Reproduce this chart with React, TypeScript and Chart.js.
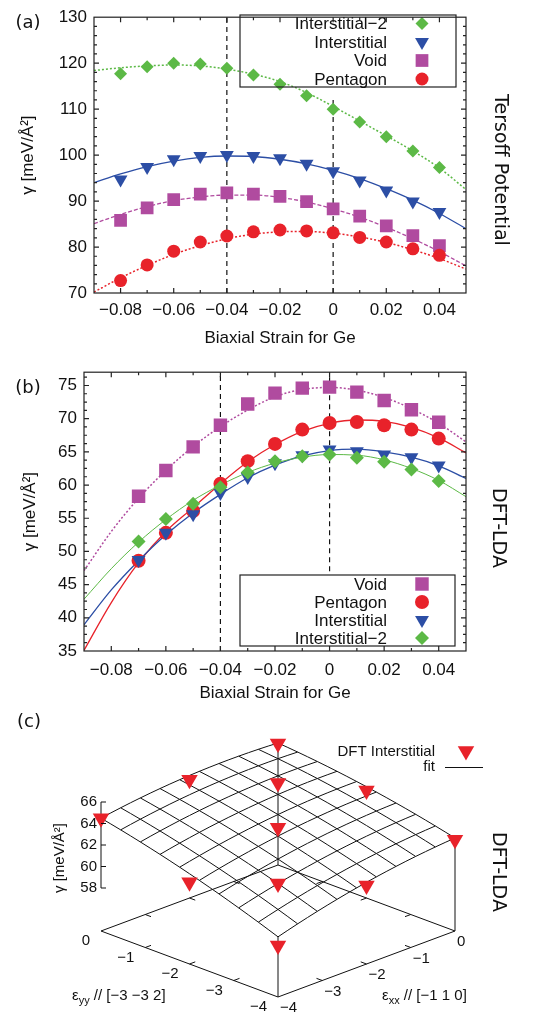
import React, { useEffect, useRef } from 'react';
import { Chart, registerables } from 'chart.js';

Chart.register(...registerables);

// ---------------- data: panel (a) Tersoff ----------------
const STRAIN_A = [-0.08, -0.07, -0.06, -0.05, -0.04, -0.03, -0.02, -0.01, 0, 0.01, 0.02, 0.03, 0.04];
const A_INT2 = [117.7, 119.2, 120.0, 119.8, 118.9, 117.4, 115.4, 112.9, 110.0, 107.2, 104.0, 100.9, 97.3];
const A_INT = [94.7, 97.4, 99.1, 99.8, 100.0, 99.8, 99.3, 98.1, 96.5, 94.5, 92.3, 89.9, 87.6];
const A_VOID = [85.8, 88.5, 90.3, 91.5, 91.8, 91.5, 91.0, 89.9, 88.3, 86.7, 84.6, 82.5, 80.3];
const A_PENT = [72.7, 76.1, 79.1, 81.1, 82.4, 83.3, 83.7, 83.5, 83.1, 82.1, 81.1, 79.6, 78.2];

// fitted curves at these strains
const FIT_X = [-0.09, -0.08, -0.07, -0.06, -0.05, -0.04, -0.03, -0.02, -0.01, 0, 0.01, 0.02, 0.03, 0.04, 0.05];
const A_INT2_FIT = [118.4, 119.0, 119.4, 119.6, 119.4, 118.7, 117.6, 116.0, 113.6, 110.6, 107.4, 104.2, 100.9, 97.2, 92.5];
const A_INT_FIT = [94.0, 95.9, 97.5, 98.7, 99.5, 99.8, 99.7, 99.1, 98.1, 96.7, 94.9, 92.7, 90.2, 87.3, 84.0];
const A_VOID_FIT = [85.1, 87.1, 88.8, 90.1, 90.9, 91.3, 91.3, 90.8, 89.8, 88.3, 86.5, 84.3, 81.8, 79.0, 75.9];
const A_PENT_FIT = [70.2, 73.3, 76.0, 78.4, 80.3, 81.8, 82.8, 83.3, 83.4, 83.0, 82.2, 81.0, 79.4, 77.5, 75.2];

// ---------------- data: panel (b) DFT-LDA ----------------
const STRAIN_B = [-0.07, -0.06, -0.05, -0.04, -0.03, -0.02, -0.01, 0, 0.01, 0.02, 0.03, 0.04];
const B_VOID = [58.3, 62.2, 65.75, 69.0, 72.2, 73.85, 74.6, 74.75, 74.0, 72.75, 71.35, 69.45];
const B_PENT = [48.6, 52.8, 56.1, 60.2, 63.6, 66.2, 68.35, 69.35, 69.5, 69.0, 68.35, 67.0];
const B_INT = [48.7, 52.8, 55.6, 58.8, 61.2, 63.3, 64.5, 65.35, 65.1, 64.6, 64.2, 62.95];
const B_INT2 = [51.5, 54.9, 57.2, 59.65, 61.9, 63.6, 64.35, 64.6, 64.1, 63.5, 62.35, 60.6];

const B_VOID_FIT = [47.1, 53.0, 58.0, 62.2, 65.8, 68.8, 71.3, 73.3, 74.4, 74.7, 74.3, 73.2, 71.5, 69.3, 66.5];
const B_PENT_FIT = [35.1, 42.3, 48.3, 53.0, 56.6, 60.2, 63.5, 66.1, 68.1, 69.3, 69.8, 69.6, 68.7, 67.1, 64.85];
const B_INT_FIT = [38.95, 44.2, 48.6, 52.5, 55.8, 58.6, 61.1, 63.0, 64.4, 65.2, 65.4, 65.0, 64.2, 62.9, 61.0];
const B_INT2_FIT = [42.8, 47.4, 51.4, 54.8, 57.7, 60.0, 61.9, 63.3, 64.2, 64.6, 64.5, 63.8, 62.5, 60.7, 58.25];

// ---------------- axes ----------------
const X_RANGE = [-0.09, 0.05];
const X_TICKS = [-0.08, -0.06, -0.04, -0.02, 0, 0.02, 0.04];
const X_TICK_LABELS = ['\u22120.08', '\u22120.06', '\u22120.04', '\u22120.02', '0', '0.02', '0.04'];
const A_Y_RANGE = [70, 130];
const A_Y_TICKS = [70, 80, 90, 100, 110, 120, 130];
const B_Y_RANGE = [35, 77];
const B_Y_TICKS = [35, 40, 45, 50, 55, 60, 65, 70, 75];
// dashed reference strains and the gamma span each dashed line covers
const REF_STRAIN = [-0.04, 0];
const A_REF_SPAN = [[70, 130], [70, 112]];
const B_REF_SPAN = [[35, 77], [47, 77]];

// ---------------- data: panel (c) 3D ----------------
const C_EXX = [0, -2, -1, 0, -4, -2, 0, -4, -3, -2, -4];
const C_EYY = [0, 0, -1, -2, 0, -2, -4, -2, -3, -4, -4];
const C_GAMMA = [65.3, 65.0, 64.7, 64.0, 64.5, 63.6, 62.5, 61.6, 61.5, 61.3, 58.8];
// fit surface: a + b*exx + c*eyy + d*exx^2 + e*eyy^2 + f*exx*eyy
const C_FIT = [65.35, -0.2625, 0.325, -0.119, -0.0875, -0.1375];
const C_STRAIN_RANGE = [-4, 0];
const C_STRAIN_TICKS = [0, -1, -2, -3, -4];
const C_STRAIN_LABELS = ['0', '\u22121', '\u22122', '\u22123', '\u22124'];
const C_Z_RANGE = [58, 66];
const C_Z_TICKS = [58, 60, 62, 64, 66];
const C_BASE = 54;

// ---------------- style ----------------
const GREEN = '#5cb946';
const BLUE = '#2c4ea5';
const MAGENTA = '#b04b9f';
const RED = '#e8222a';
const INK = '#111111';
const FONT = '"Liberation Sans", Arial, Helvetica, sans-serif';
const FONT_DJ = '"DejaVu Sans", Verdana, sans-serif';
const W = 534;

Chart.defaults.font.family = FONT;
Chart.defaults.font.size = 17;
Chart.defaults.color = INK;

type Style = 'rectRot' | 'triangleDown' | 'rect' | 'circle';

function drawMarker(ctx: CanvasRenderingContext2D, style: Style, x: number, y: number, r: number, color: string) {
  ctx.save();
  ctx.fillStyle = color;
  ctx.beginPath();
  if (style === 'circle') {
    ctx.arc(x, y, r, 0, Math.PI * 2);
  } else if (style === 'rect') {
    const s = r * Math.SQRT1_2;
    ctx.rect(x - s, y - s, 2 * s, 2 * s);
  } else if (style === 'rectRot') {
    ctx.moveTo(x - r, y);
    ctx.lineTo(x, y - r);
    ctx.lineTo(x + r, y);
    ctx.lineTo(x, y + r);
    ctx.closePath();
  } else {
    ctx.moveTo(x, y + r);
    ctx.lineTo(x - 0.866 * r, y - 0.5 * r);
    ctx.lineTo(x + 0.866 * r, y - 0.5 * r);
    ctx.closePath();
  }
  ctx.fill();
  ctx.restore();
}

type Ser = {
  label: string; x: number[]; y: number[]; fit: number[]; color: string;
  style: Style; r: number; dash: number[]; lw: number; order: number;
};

type PanelParams = {
  series: Ser[]; yRange: number[]; yTicks: number[]; yMinor: number; refSpan: number[][];
  padTop: number; right: number; yAxisW: number; xAxisH: number;
  xTickPad: number; xTitlePad: number; yTitlePad: number;
  letter: string; letterY: number; side: string; sideX: number; sideY: number;
  legendBox: number[]; legendRow0: number; legendStep: number; legendTextX: number; legendSymX: number;
};

function buildPanel(canvas: HTMLCanvasElement, p: PanelParams) {
  const datasets: any[] = [];
  p.series.forEach((s) => {
    datasets.push({
      label: s.label,
      data: s.x.map((x, i) => ({ x, y: s.y[i] })),
      showLine: false,
      pointStyle: s.style === 'triangleDown' ? 'triangle' : s.style,
      pointRotation: s.style === 'triangleDown' ? 180 : 0,
      pointRadius: s.r,
      pointHoverRadius: s.r,
      pointBackgroundColor: s.color,
      pointBorderColor: s.color,
      pointBorderWidth: 0,
      order: s.order,
    });
    datasets.push({
      label: s.label + ' fit',
      data: FIT_X.map((x, i) => ({ x, y: s.fit[i] })),
      showLine: true,
      pointRadius: 0,
      borderColor: s.color,
      borderWidth: s.lw,
      borderDash: s.dash,
      cubicInterpolationMode: 'monotone',
      fill: false,
      order: 10 + s.order,
    });
  });
  REF_STRAIN.forEach((x, i) => {
    datasets.push({
      label: 'ref',
      data: [{ x, y: p.refSpan[i][0] }, { x, y: p.refSpan[i][1] }],
      showLine: true,
      pointRadius: 0,
      borderColor: INK,
      borderWidth: 1.2,
      borderDash: [5, 4],
      order: 30,
    });
  });

  const plugin = {
    id: 'gnuframe',
    afterDatasetsDraw(chart: any) {
      const { ctx, chartArea } = chart;
      const { left, right, top, bottom } = chartArea;
      const xs = chart.scales.x;
      const ys = chart.scales.y;
      // legend (transparent key, as in gnuplot)
      const [lx0, ly0, lx1, ly1] = p.legendBox;
      ctx.save();
      ctx.strokeStyle = '#222';
      ctx.lineWidth = 1.2;
      ctx.strokeRect(lx0, ly0, lx1 - lx0, ly1 - ly0);
      ctx.font = `17px ${FONT}`;
      ctx.textAlign = 'right';
      ctx.textBaseline = 'middle';
      p.series.forEach((s, i) => {
        const y = p.legendRow0 + i * p.legendStep;
        ctx.fillStyle = INK;
        ctx.fillText(s.label, p.legendTextX, y + 1);
        drawMarker(ctx, s.style, p.legendSymX, y, s.r, s.color);
      });
      // frame
      ctx.strokeRect(left, top, right - left, bottom - top);
      ctx.beginPath();
      const major = 5, minor = 3;
      for (let k = Math.round(X_RANGE[0] * 100); k <= Math.round(X_RANGE[1] * 100); k++) {
        const v = k / 100;
        const isMajor = X_TICKS.some((t) => Math.abs(t - v) < 1e-9);
        const L = isMajor ? major : minor;
        const px = xs.getPixelForValue(v);
        if (px <= left + 0.5 || px >= right - 0.5) continue;
        ctx.moveTo(px, bottom); ctx.lineTo(px, bottom - L);
        ctx.moveTo(px, top); ctx.lineTo(px, top + L);
      }
      const n = Math.round((p.yRange[1] - p.yRange[0]) / p.yMinor);
      for (let k = 0; k <= n; k++) {
        const v = p.yRange[0] + k * p.yMinor;
        const isMajor = p.yTicks.some((t) => Math.abs(t - v) < 1e-6);
        const L = isMajor ? major : minor;
        const py = ys.getPixelForValue(v);
        if (py <= top + 0.5 || py >= bottom - 0.5) continue;
        ctx.moveTo(left, py); ctx.lineTo(left + L, py);
        ctx.moveTo(right, py); ctx.lineTo(right - L, py);
      }
      ctx.stroke();
      ctx.restore();
    },
    afterDraw(chart: any) {
      const { ctx } = chart;
      ctx.save();
      ctx.fillStyle = INK;
      ctx.textAlign = 'center';
      ctx.textBaseline = 'middle';
      ctx.font = `18px ${FONT_DJ}`;
      ctx.fillText(p.letter, 28, p.letterY);
      ctx.translate(p.sideX, p.sideY);
      ctx.rotate(Math.PI / 2);
      ctx.font = `19px ${FONT_DJ}`;
      ctx.fillText(p.side, 0, 0);
      ctx.restore();
    },
  };

  return new Chart(canvas, {
    type: 'scatter',
    data: { datasets },
    options: {
      responsive: false,
      animation: false,
      devicePixelRatio: 1,
      events: [],
      layout: { autoPadding: false, padding: { top: p.padTop, right: W - p.right, left: 0, bottom: 0 } },
      plugins: { legend: { display: false }, tooltip: { enabled: false } },
      scales: {
        x: {
          type: 'linear',
          min: X_RANGE[0],
          max: X_RANGE[1],
          afterBuildTicks: (s: any) => { s.ticks = X_TICKS.map((v) => ({ value: v })); },
          afterFit: (s: any) => { s.height = p.xAxisH; },
          grid: { display: false, drawTicks: false },
          border: { display: false },
          ticks: {
            autoSkip: false, maxRotation: 0, minRotation: 0, padding: p.xTickPad,
            font: { size: 17 }, color: INK,
            callback: (_v: any, i: number) => X_TICK_LABELS[i],
          },
          title: {
            display: true, text: 'Biaxial Strain for Ge', color: INK, font: { size: 17 },
            padding: { top: 0, bottom: p.xTitlePad },
          },
        },
        y: {
          type: 'linear',
          min: p.yRange[0],
          max: p.yRange[1],
          afterBuildTicks: (s: any) => { s.ticks = p.yTicks.map((v) => ({ value: v })); },
          afterFit: (s: any) => { s.width = p.yAxisW; },
          grid: { display: false, drawTicks: false },
          border: { display: false },
          ticks: {
            autoSkip: false, padding: 7, font: { size: 17 }, color: INK,
            callback: (_v: any, i: number) => String(p.yTicks[i]),
          },
          title: {
            display: true, text: '\u03b3 [meV/\u00c5\u00b2]', color: INK, font: { size: 17 },
            padding: { top: p.yTitlePad, bottom: 0 },
          },
        },
      },
    } as any,
    plugins: [plugin],
  });
}

// ---------------- panel (c) ----------------
const VIEW = { cx: 278, ux: 44.25, cy: 160, uz: 10.75, depth: 16.5 };
const C_H = 311;
const KD = VIEW.depth / VIEW.uz;
const surf = (ex: number, ey: number) =>
  C_FIT[0] + C_FIT[1] * ex + C_FIT[2] * ey + C_FIT[3] * ex * ex + C_FIT[4] * ey * ey + C_FIT[5] * ex * ey;
const proj = (ex: number, ey: number, g: number) => ({ x: ex - ey, y: g + KD * (ex + ey) });

function buildSurface(canvas: HTMLCanvasElement) {
  const [lo, hi] = C_STRAIN_RANGE;
  const datasets: any[] = [];
  datasets.push({
    label: 'DFT Interstitial',
    data: C_EXX.map((ex, i) => proj(ex, C_EYY[i], C_GAMMA[i])),
    showLine: false,
    pointStyle: 'triangle',
    pointRotation: 180,
    pointRadius: 9.5,
    pointBackgroundColor: RED,
    pointBorderWidth: 0,
    order: 0,
  });
  const line = (data: any[], order = 5) => ({
    data, showLine: true, pointRadius: 0, borderColor: INK, borderWidth: 1, tension: 0, order,
  });
  const NISO = 10, NS = 19;
  for (let i = 0; i < NISO; i++) {
    const a = lo + ((hi - lo) * i) / (NISO - 1);
    const l1: any[] = [], l2: any[] = [];
    for (let j = 0; j < NS; j++) {
      const b = lo + ((hi - lo) * j) / (NS - 1);
      l1.push(proj(a, b, surf(a, b)));
      l2.push(proj(b, a, surf(b, a)));
    }
    datasets.push(line(l1));
    datasets.push(line(l2));
  }
  // base plane
  datasets.push(line([[lo, hi], [lo, lo], [hi, lo], [hi, hi], [lo, hi]].map(([a, b]) => proj(a, b, C_BASE))));
  // corner verticals
  [[hi, hi], [hi, lo], [lo, lo]].forEach(([a, b]) => {
    datasets.push(line([proj(a, b, C_BASE), proj(a, b, surf(a, b))]));
  });
  // z axis
  datasets.push(line([proj(lo, hi, C_Z_RANGE[0]), proj(lo, hi, C_Z_RANGE[1])]));

  const plugin = {
    id: 'surf3d',
    afterDatasetsDraw(chart: any) {
      const { ctx } = chart;
      const xs = chart.scales.x, ys = chart.scales.y;
      const px = (ex: number, ey: number, g: number) => {
        const q = proj(ex, ey, g);
        return { x: xs.getPixelForValue(q.x), y: ys.getPixelForValue(q.y) };
      };
      ctx.save();
      ctx.strokeStyle = INK;
      ctx.lineWidth = 1;
      ctx.beginPath();
      // base ticks
      const tl = 0.13;
      [-1, -2, -3].forEach((v) => {
        const segs = [
          [px(lo, v, C_BASE), px(lo + tl, v, C_BASE)],
          [px(hi, v, C_BASE), px(hi - tl, v, C_BASE)],
          [px(v, lo, C_BASE), px(v, lo + tl, C_BASE)],
          [px(v, hi, C_BASE), px(v, hi - tl, C_BASE)],
        ];
        segs.forEach(([s, e]) => { ctx.moveTo(s.x, s.y); ctx.lineTo(e.x, e.y); });
      });
      // z ticks
      C_Z_TICKS.forEach((z) => {
        const q = px(lo, hi, z);
        ctx.moveTo(q.x, q.y); ctx.lineTo(q.x + 5, q.y);
      });
      ctx.stroke();

      ctx.fillStyle = INK;
      ctx.font = `15px ${FONT}`;
      ctx.textBaseline = 'middle';
      ctx.textAlign = 'right';
      C_Z_TICKS.forEach((z) => {
        const q = px(lo, hi, z);
        ctx.fillText(String(z), q.x - 4, q.y);
      });
      C_STRAIN_TICKS.forEach((v, i) => {
        const q = px(lo, v, C_BASE);
        ctx.textAlign = 'right';
        ctx.fillText(C_STRAIN_LABELS[i], q.x - 11, q.y + 10);
        const r = px(v, lo, C_BASE);
        ctx.textAlign = 'left';
        ctx.fillText(C_STRAIN_LABELS[i], r.x + 2, r.y + 11);
      });
      // axis labels with subscripts
      const sub = (x: number, y: number, main: string, s: string, rest: string) => {
        ctx.textAlign = 'left';
        ctx.textBaseline = 'alphabetic';
        ctx.font = `15px ${FONT}`;
        ctx.fillText(main, x, y);
        let w = ctx.measureText(main).width;
        ctx.font = `11px ${FONT}`;
        ctx.fillText(s, x + w, y + 4);
        w += ctx.measureText(s).width;
        ctx.font = `15px ${FONT}`;
        ctx.fillText(rest, x + w, y);
      };
      sub(72, 295, '\u03b5', 'yy', ' // [\u22123 \u22123 2]');
      sub(382, 295, '\u03b5', 'xx', ' // [\u22121 1 0]');
      // z title
      ctx.save();
      ctx.translate(60, 153);
      ctx.rotate(-Math.PI / 2);
      ctx.textAlign = 'center';
      ctx.textBaseline = 'middle';
      ctx.font = `15px ${FONT}`;
      ctx.fillText('\u03b3 [meV/\u00c5\u00b2]', 0, 0);
      ctx.restore();
      // legend
      ctx.textAlign = 'right';
      ctx.textBaseline = 'middle';
      ctx.font = `15px ${FONT}`;
      ctx.fillText('DFT Interstitial', 435, 47);
      ctx.fillText('fit', 435, 62);
      drawMarker(ctx, 'triangleDown', 466, 46, 9.5, RED);
      ctx.beginPath();
      ctx.moveTo(445, 62.5); ctx.lineTo(483, 62.5);
      ctx.stroke();
      // panel letter and side label
      ctx.textAlign = 'center';
      ctx.font = `18px ${FONT_DJ}`;
      ctx.fillText('(c)', 29, 17);
      ctx.translate(498, 167);
      ctx.rotate(Math.PI / 2);
      ctx.font = `19px ${FONT_DJ}`;
      ctx.fillText('DFT-LDA', 0, 0);
      ctx.restore();
    },
  };

  return new Chart(canvas, {
    type: 'scatter',
    data: { datasets },
    options: {
      responsive: false,
      animation: false,
      devicePixelRatio: 1,
      events: [],
      layout: { autoPadding: false, padding: 0 },
      plugins: { legend: { display: false }, tooltip: { enabled: false } },
      scales: {
        x: { type: 'linear', display: false, min: -VIEW.cx / VIEW.ux, max: (W - VIEW.cx) / VIEW.ux },
        y: { type: 'linear', display: false, min: C_BASE - (C_H - VIEW.cy) / VIEW.uz, max: C_BASE + VIEW.cy / VIEW.uz },
      },
    } as any,
    plugins: [plugin],
  });
}

export default function App() {
  const aRef = useRef<HTMLCanvasElement>(null);
  const bRef = useRef<HTMLCanvasElement>(null);
  const cRef = useRef<HTMLCanvasElement>(null);

  useEffect(() => {
    const a = buildPanel(aRef.current!, {
      series: [
        { label: 'Interstitial\u22122', x: STRAIN_A, y: A_INT2, fit: A_INT2_FIT, color: GREEN, style: 'rectRot', r: 6.5, dash: [2, 2], lw: 1.5, order: 1 },
        { label: 'Interstitial', x: STRAIN_A, y: A_INT, fit: A_INT_FIT, color: BLUE, style: 'triangleDown', r: 8, dash: [], lw: 1.3, order: 2 },
        { label: 'Void', x: STRAIN_A, y: A_VOID, fit: A_VOID_FIT, color: MAGENTA, style: 'rect', r: 9, dash: [4, 2], lw: 1.3, order: 4 },
        { label: 'Pentagon', x: STRAIN_A, y: A_PENT, fit: A_PENT_FIT, color: RED, style: 'circle', r: 6.5, dash: [2, 2], lw: 1.5, order: 3 },
      ],
      yRange: A_Y_RANGE, yTicks: A_Y_TICKS, yMinor: 2, refSpan: A_REF_SPAN,
      padTop: 13, right: 466, yAxisW: 94, xAxisH: 62,
      xTickPad: 7.5, xTitlePad: 6.8, yTitlePad: 17.8,
      letter: '(a)', letterY: 23, side: 'Tersoff Potential', sideX: 500, sideY: 170,
      legendBox: [240, 15, 456, 87], legendRow0: 23.5, legendStep: 18.5, legendTextX: 387, legendSymX: 422,
    });
    const b = buildPanel(bRef.current!, {
      series: [
        { label: 'Void', x: STRAIN_B, y: B_VOID, fit: B_VOID_FIT, color: MAGENTA, style: 'rect', r: 9.5, dash: [2, 2], lw: 1.5, order: 4 },
        { label: 'Pentagon', x: STRAIN_B, y: B_PENT, fit: B_PENT_FIT, color: RED, style: 'circle', r: 7, dash: [], lw: 1.3, order: 3 },
        { label: 'Interstitial', x: STRAIN_B, y: B_INT, fit: B_INT_FIT, color: BLUE, style: 'triangleDown', r: 8, dash: [], lw: 1.3, order: 2 },
        { label: 'Interstitial\u22122', x: STRAIN_B, y: B_INT2, fit: B_INT2_FIT, color: GREEN, style: 'rectRot', r: 7, dash: [], lw: 1, order: 1 },
      ],
      yRange: B_Y_RANGE, yTicks: B_Y_TICKS, yMinor: 1.25, refSpan: B_REF_SPAN,
      padTop: 15, right: 466, yAxisW: 84, xAxisH: 54,
      xTickPad: 8.8, xTitlePad: 1.8, yTitlePad: 19.8,
      letter: '(b)', letterY: 33, side: 'DFT-LDA', sideX: 498, sideY: 173,
      legendBox: [240, 220, 455, 291], legendRow0: 229, legendStep: 18, legendTextX: 387, legendSymX: 422,
    });
    const c = buildSurface(cRef.current!);
    return () => { a.destroy(); b.destroy(); c.destroy(); };
  }, []);

  return (
    <div style={{ position: 'absolute', left: 0, top: 0, width: W, height: 1016, background: '#fff', overflow: 'hidden' }}>
      <canvas ref={aRef} width={W} height={355} style={{ position: 'absolute', left: 0, top: 0 }} />
      <canvas ref={bRef} width={W} height={350} style={{ position: 'absolute', left: 0, top: 355 }} />
      <canvas ref={cRef} width={W} height={C_H} style={{ position: 'absolute', left: 0, top: 705 }} />
    </div>
  );
}
